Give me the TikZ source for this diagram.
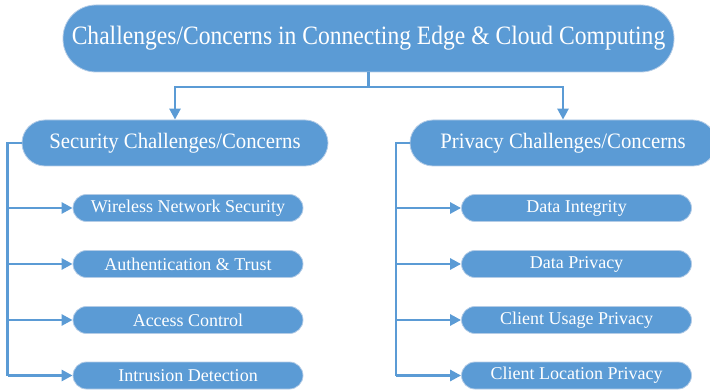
\documentclass[tikz,border=0pt]{standalone}
\usepackage{fontspec}
\setmainfont{Liberation Serif}
\usetikzlibrary{arrows.meta}
\definecolor{boxblue}{HTML}{5B9BD5}
\definecolor{boxedge}{HTML}{B4CCE6}
\newcommand{\topsq}[1]{\scalebox{0.89}[1]{#1}}
\newcommand{\midsq}[1]{\scalebox{0.945}[1]{#1}}
\begin{document}
\begin{tikzpicture}[x=1pt,y=-1pt,
  pill/.style={fill=boxblue,draw=boxedge,line width=0.8pt,text=white,inner sep=0pt,anchor=center},
  topbox/.style={pill,minimum width=611pt,minimum height=67pt,rounded corners=33pt,font=\fontsize{26.5}{30}\selectfont},
  midbox/.style={pill,minimum width=306pt,minimum height=46pt,rounded corners=23pt,font=\fontsize{22}{25}\selectfont},
  leafbox/.style={pill,minimum width=230pt,minimum height=27pt,rounded corners=13.5pt,font=\fontsize{18}{20}\selectfont},
  conn/.style={draw=boxblue,line width=2.6pt,-{Triangle[length=11pt,width=11pt]}},
  plain/.style={draw=boxblue,line width=2.6pt}
]
\useasboundingbox (0,0) rectangle (710,390);
\node[topbox] (top) at (368.5,38.5) {\topsq{Challenges/Concerns in Connecting Edge \& Cloud Computing}};
\node[midbox] (sec) at (175,143) {\midsq{Security Challenges/Concerns}};
\node[midbox] (pri) at (563,143) {\midsq{Privacy Challenges/Concerns}};

\node[leafbox] (s1) at (188,208) {Wireless Network Security};
\node[leafbox] (s2) at (188,264) {Authentication \& Trust};
\node[leafbox] (s3) at (188,320) {Access Control};
\node[leafbox] (s4) at (188,375.5) {Intrusion Detection};

\node[leafbox] (p1) at (576.5,208) {Data Integrity};
\node[leafbox] (p2) at (576.5,264) {Data Privacy};
\node[leafbox] (p3) at (576.5,320) {Client Usage Privacy};
\node[leafbox] (p4) at (576.5,375.5) {Client Location Privacy};

\coordinate (hub) at (368.5,87);
\draw[plain] (top.south) -- (hub);
\draw[conn] (hub) -| (sec.north);
\draw[conn] (hub) -| (pri.north);

\coordinate (sl) at (7.5,143);
\draw[plain] (sec.west) -- (sl) -- (sl |- s4.west);
\foreach \n in {s1,s2,s3,s4} \draw[conn] (sl |- \n.west) -- (\n.west);

\coordinate (pl) at (396,143);
\draw[plain] (pri.west) -- (pl) -- (pl |- p4.west);
\foreach \n in {p1,p2,p3,p4} \draw[conn] (pl |- \n.west) -- (\n.west);
\end{tikzpicture}
\end{document}
